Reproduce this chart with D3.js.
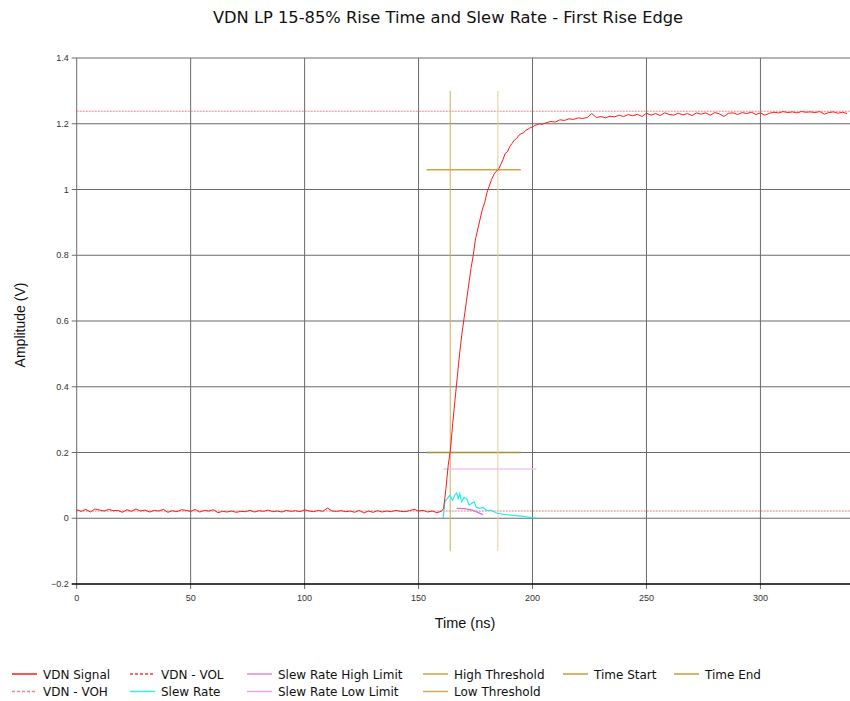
<!DOCTYPE html>
<html>
<head>
<meta charset="utf-8">
<script src="https://cdn.jsdelivr.net/npm/d3@7"></script>
<style>
  body { margin: 0; background: #fff; }
  text { font-family: "Liberation Sans", Arial, sans-serif; }
</style>
</head>
<body>
<div id="container"></div>
<script>
// signal samples, ns -> V
const baseTimes = d3.range(0, 161, 2);
const baseValues = [
  0.026, 0.021, 0.027, 0.019, 0.028, 0.025, 0.022, 0.027, 0.023, 0.024,
  0.018, 0.026, 0.021, 0.028, 0.022, 0.025, 0.019, 0.024, 0.022, 0.027,
  0.018, 0.023, 0.020, 0.026, 0.024, 0.021, 0.027, 0.019, 0.024, 0.022,
  0.026, 0.017, 0.021, 0.019, 0.022, 0.018, 0.021, 0.020, 0.024, 0.019,
  0.023, 0.021, 0.025, 0.020, 0.022, 0.019, 0.024, 0.021, 0.023, 0.020,
  0.026, 0.022, 0.020, 0.024, 0.021, 0.031, 0.022, 0.021, 0.023, 0.020,
  0.022, 0.018, 0.024, 0.016, 0.022, 0.018, 0.023, 0.019, 0.022, 0.020,
  0.024, 0.021, 0.020, 0.023, 0.027, 0.022, 0.024, 0.019, 0.022, 0.017,
  0.021
];
const riseTimes = d3.range(161, 205, 1);
const riseValues = [
  0.03, 0.09, 0.16, 0.21, 0.29, 0.36, 0.43, 0.50, 0.56, 0.61,
  0.66, 0.71, 0.76, 0.80, 0.85, 0.88, 0.91, 0.94, 0.96, 0.99,
  1.01, 1.03, 1.045, 1.055, 1.06, 1.075, 1.09, 1.11, 1.115, 1.13,
  1.14, 1.15, 1.155, 1.165, 1.17, 1.172, 1.18, 1.183, 1.188, 1.19,
  1.195, 1.197, 1.20, 1.198
];
const tailTimes = d3.range(206, 339, 2);
const tailValues = [
  1.203, 1.207, 1.205, 1.212, 1.210, 1.215, 1.213, 1.218, 1.216, 1.219,
  1.231, 1.219, 1.222, 1.218, 1.223, 1.221, 1.226, 1.222, 1.228, 1.224,
  1.229, 1.222, 1.232, 1.226, 1.231, 1.225, 1.233, 1.228, 1.226, 1.232,
  1.227, 1.231, 1.225, 1.233, 1.229, 1.233, 1.226, 1.234, 1.230, 1.222,
  1.232, 1.233, 1.228, 1.234, 1.231, 1.235, 1.228, 1.233, 1.226, 1.232,
  1.235, 1.233, 1.237, 1.234, 1.236, 1.233, 1.237, 1.235, 1.236, 1.234,
  1.237, 1.229, 1.234, 1.236, 1.232, 1.235, 1.231
];
const slewTimes = [160.8, 161.5, 163.7, 164.9, 165.9, 166.7, 167.4, 168.1, 168.9, 169.9, 171.1, 172.2, 173.2, 174.3, 175.4, 176.9, 178.3, 179.8, 182, 184.2, 187.1, 191.5, 195.9, 199.6, 201.7];
const slewValues = [0, 0.05, 0.07, 0.055, 0.07, 0.077, 0.06, 0.075, 0.05, 0.063, 0.06, 0.04, 0.045, 0.05, 0.033, 0.03, 0.033, 0.024, 0.024, 0.016, 0.012, 0.009, 0.006, 0.002, 0.001];
const slewLowTimes = [166.8, 170, 174, 178.2];
const slewLowValues = [0.030, 0.029, 0.024, 0.011];

const voh = 1.238, vol = 0.022;
const slewHigh = 0.15, slewHighSpan = [160.8, 201.7];
const highThreshold = 1.06, lowThreshold = 0.2, thresholdSpan = [153.5, 194.9];
const timeStart = 163.9, timeEnd = 184.8, timeSpan = [-0.1, 1.3];

const xTicks = [0, 50, 100, 150, 200, 250, 300];
const yTicks = [-0.2, 0, 0.2, 0.4, 0.6, 0.8, 1, 1.2, 1.4];

const legendItems = [
  { name: 'VDN Signal', color: '#ff1a1a', dash: null, col: 0, row: 0 },
  { name: 'VDN - VOH', color: '#ff8080', dash: '3,2', col: 0, row: 1 },
  { name: 'VDN - VOL', color: '#ff3333', dash: '3,2', col: 1, row: 0 },
  { name: 'Slew Rate', color: '#33eeee', dash: null, col: 1, row: 1 },
  { name: 'Slew Rate High Limit', color: '#dd88dd', dash: null, col: 2, row: 0 },
  { name: 'Slew Rate Low Limit', color: '#eea0ee', dash: null, col: 2, row: 1 },
  { name: 'High Threshold', color: '#d0a548', dash: null, col: 3, row: 0 },
  { name: 'Low Threshold', color: '#d4aa50', dash: null, col: 3, row: 1 },
  { name: 'Time Start', color: '#c89a40', dash: null, col: 4, row: 0 },
  { name: 'Time End', color: '#c89a40', dash: null, col: 5, row: 0 }
];
const legendCols = [12, 130, 247, 423, 563, 674];

const width = 850, height = 701;
const svg = d3.select('#container').append('svg').attr('width', width).attr('height', height);

const x = d3.scaleLinear().domain([0, 339.3]).range([76.7, 850]);
const y = d3.scaleLinear().domain([-0.2, 1.4]).range([584, 58]);

// grid
const grid = svg.append('g');
xTicks.forEach(t => {
  grid.append('line').attr('x1', x(t)).attr('x2', x(t)).attr('y1', y(1.4)).attr('y2', y(-0.2) + 5)
    .attr('stroke', '#6a6a6a').attr('stroke-width', 1);
});
yTicks.forEach(t => {
  grid.append('line').attr('x1', x(0) - 5).attr('x2', width).attr('y1', y(t)).attr('y2', y(t))
    .attr('stroke', t === -0.2 ? '#000' : '#6a6a6a').attr('stroke-width', t === -0.2 ? 1.5 : 1);
});

// tick labels
svg.append('g').selectAll('text').data(yTicks).join('text')
  .attr('x', x(0) - 8).attr('y', d => y(d) + 3).attr('text-anchor', 'end')
  .attr('font-size', 9).attr('fill', '#333').text(d => d3.format('')(+d.toFixed(1)));
svg.append('g').selectAll('text').data(xTicks).join('text')
  .attr('x', d => x(d)).attr('y', y(-0.2) + 17).attr('text-anchor', 'middle')
  .attr('font-size', 9).attr('fill', '#333').text(d => d);

// titles
svg.append('text').attr('x', 448).attr('y', 23).attr('text-anchor', 'middle').attr('font-size', 16.3).attr('fill', '#111')
  .style('font-family', '"DejaVu Sans", sans-serif')
  .text('VDN LP 15-85% Rise Time and Slew Rate - First Rise Edge');
svg.append('text').attr('transform', `translate(25,${(y(1.4) + y(-0.2)) / 2 + 4}) rotate(-90)`).attr('text-anchor', 'middle')
  .attr('font-size', 14).attr('fill', '#111').text('Amplitude (V)');
svg.append('text').attr('x', 465).attr('y', 628).attr('text-anchor', 'middle').attr('font-size', 14.5).attr('fill', '#111')
  .text('Time (ns)');

const line = d3.line().x(d => x(d[0])).y(d => y(d[1]));
const plot = svg.append('g');

// reference levels
plot.append('line').attr('x1', x(0)).attr('x2', width).attr('y1', y(voh)).attr('y2', y(voh))
  .attr('stroke', '#ff8080').attr('stroke-dasharray', '2,1').attr('stroke-width', 1);
plot.append('line').attr('x1', x(0)).attr('x2', width).attr('y1', y(vol)).attr('y2', y(vol))
  .attr('stroke', '#d06060').attr('stroke-dasharray', '2,1').attr('stroke-width', 0.8);

// thresholds and time markers
plot.append('line').attr('x1', x(thresholdSpan[0])).attr('x2', x(thresholdSpan[1])).attr('y1', y(highThreshold)).attr('y2', y(highThreshold))
  .attr('stroke', '#d0a548').attr('stroke-width', 1.5);
plot.append('line').attr('x1', x(thresholdSpan[0])).attr('x2', x(thresholdSpan[1])).attr('y1', y(lowThreshold)).attr('y2', y(lowThreshold))
  .attr('stroke', '#a88a3c').attr('stroke-width', 1.5);
plot.append('line').attr('x1', x(timeStart)).attr('x2', x(timeStart)).attr('y1', y(timeSpan[0])).attr('y2', y(timeSpan[1]))
  .attr('stroke', '#d6ac58').attr('stroke-width', 1);
plot.append('line').attr('x1', x(timeEnd)).attr('x2', x(timeEnd)).attr('y1', y(timeSpan[0])).attr('y2', y(timeSpan[1]))
  .attr('stroke', '#e6cc94').attr('stroke-width', 1);

// slew limits
plot.append('line').attr('x1', x(slewHighSpan[0])).attr('x2', x(slewHighSpan[1])).attr('y1', y(slewHigh)).attr('y2', y(slewHigh))
  .attr('stroke', '#f0c4f0').attr('stroke-width', 1.5);
plot.append('path').datum(d3.zip(slewLowTimes, slewLowValues)).attr('d', line)
  .attr('fill', 'none').attr('stroke', '#d070d0').attr('stroke-width', 1.2);

// slew rate
plot.append('path').datum(d3.zip(slewTimes, slewValues)).attr('d', line)
  .attr('fill', 'none').attr('stroke', '#22eeee').attr('stroke-width', 1.2);

// signal
const signal = d3.zip(baseTimes.concat(riseTimes, tailTimes), baseValues.concat(riseValues, tailValues));
plot.append('path').datum(signal).attr('d', line)
  .attr('fill', 'none').attr('stroke', '#ff1a1a').attr('stroke-width', 1);

// legend
const leg = svg.append('g');
legendItems.forEach(it => {
  const lx = legendCols[it.col], ly = 674 + it.row * 17.5;
  leg.append('line').attr('x1', lx).attr('x2', lx + 25).attr('y1', ly).attr('y2', ly)
    .attr('stroke', it.color).attr('stroke-width', 1.5).attr('stroke-dasharray', it.dash);
  leg.append('text').attr('x', lx + 31).attr('y', ly + 4.5).attr('font-size', 12).attr('fill', '#111')
    .style('font-family', '"DejaVu Sans", sans-serif').text(it.name);
});
</script>
</body>
</html>
